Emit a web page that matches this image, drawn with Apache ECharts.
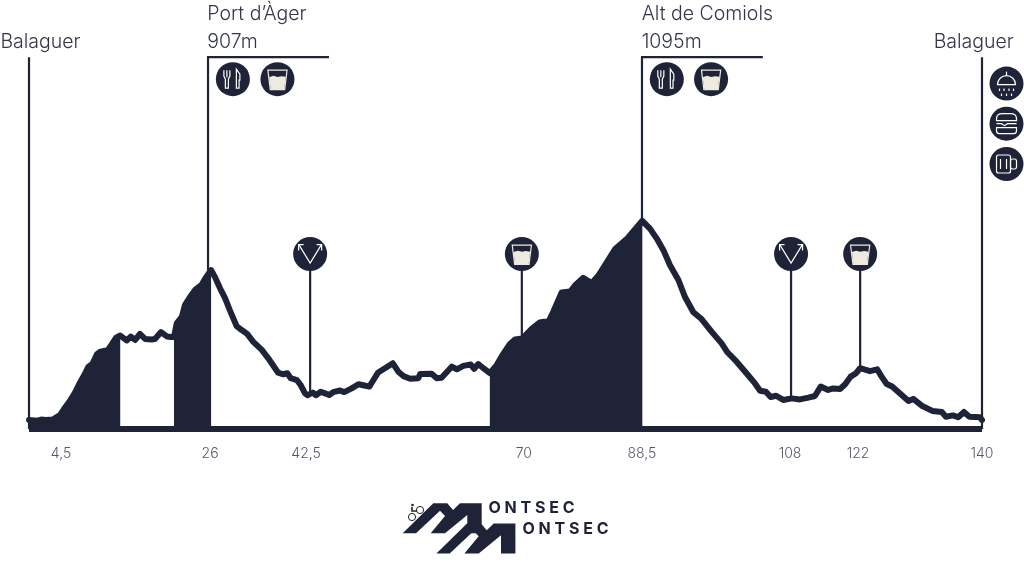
<!DOCTYPE html>
<html><head><meta charset="utf-8">
<style>html,body{margin:0;padding:0;background:#fff}#c{width:1024px;height:570px}</style>
<script src="https://cdn.jsdelivr.net/npm/echarts@6/dist/echarts.min.js"></script>
</head><body><div id="c"></div>
<script>
// profile: position along the drawn axis (km scale of the picture) and elevation (m)
const kmPos = [0,1.2,1.8,2.5,3.5,4.55,5.3,6,6.8,7.5,8.2,8.7,9.3,10,10.4,11.6,12.2,12.8,13.4,14.35,14.95,15.6,16.3,17.05,18.05,18.5,19.4,20.3,20.85,21.3,21.7,22.45,22.9,23.65,24.4,25.35,25.85,26.75,27.3,28.05,28.8,29.5,30.5,31.25,32.05,32.95,34.2,35.15,36.15,36.6,37.35,37.95,38.45,39.35,39.9,40.55,40.9,41.3,41.7,42.15,42.85,43.5,44.1,44.8,45.7,46.3,47.4,48.4,49.1,50,50.6,51.3,52.05,53.45,54.25,55,56,57.2,57.45,59.15,59.9,60.6,62.1,62.85,63.8,64.9,65.4,66,66.75,67.7,68.7,69.65,70.65,71.4,72.5,73.85,75.05,75.65,76.3,77,78.25,79.5,80.2,81.4,82.65,83.65,86.1,87.8,90.1,91.25,92.2,93.2,94.15,95.4,96.35,97.6,98.8,100.3,101.75,102.6,103.95,105.4,106.65,107.4,108.25,108.95,109.75,110.8,112.05,113.25,114.5,115.45,116.3,117.4,118.15,119.15,119.9,120.7,121.5,122.1,123.55,124.6,125.25,126,126.8,129.2,129.9,131.15,132.7,134.1,134.7,135.7,136.5,137.35,138.15,139.7,140];
const elevation = [334,332,336,334,336,353,382,407,441,478,510,537,548,586,594,602,625,649,657,638,653,640,663,644,642,644,670,653,651,651,703,728,773,804,831,850,873,907,881,838,800,754,693,678,663,633,602,570,532,515,509,513,494,487,468,436,429,434,439,429,442,436,430,442,447,441,455,471,467,462,487,516,528,551,519,502,492,494,510,511,494,496,538,528,541,546,530,548,532,513,544,586,625,642,646,682,707,710,709,747,821,825,848,877,857,886,987,1025,1095,1064,1028,983,926,869,805,746,720,671,627,593,557,513,474,446,442,422,427,411,417,413,420,426,462,449,455,453,471,500,513,532,521,528,500,472,462,407,415,389,369,365,347,352,345,365,347,345,334];
const climbs = [[0,13.4],[21.3,26.75],[67.7,90.1]];

const tickPos = [4.7,26.6,40.7,72.7,90.05,111.8,121.8,140];
const tickLabels = ['4,5','26','42,5','70','88,5','108','122','140'];

// vertical stems and top brackets
const stemKm = [0,26.3,90.05,140,41.3,72.4,111.95,122.1];
const stemFrom = [300,907,1095,300,434,646,417,532];
const stemTo = [1720,1720,1720,1720,968,968,968,968];
const bracketFrom = [26.3,90.05];
const bracketTo = [44.07,107.8];
const bracketElev = [1720,1720];

// service icons
const iconKm = [29.95,36.5,93.7,100.2,41.3,72.4,111.95,122.1,143.6,143.6,143.6];
const iconElev = [1636,1636,1636,1636,968,968,968,968,1619,1466,1312];
const iconKind = ['food','water','food','water','turn','water','turn','water','shower','burger','mug'];

// place names
const placeText = ['Balaguer','Port d\u2019\u00c0ger','907m','Alt de Comiols','1095m','Balaguer'];
const placeKm = [-4.2,26.2,26.2,90,90,132.9];
const placeElev = [1778,1883,1778,1883,1778,1778];

const DARK = '#1f2337', CREAM = '#efeae0', TXT = '#33364a';
const chart = echarts.init(document.getElementById('c'), null, {renderer:'canvas'});

function icon(kind){
  const w = {stroke:'#fff', fill:null, lineWidth:1.2};
  const c = [{type:'circle', shape:{cx:0,cy:0,r:17}, style:{fill:DARK}}];
  if(kind==='water'){
    c.push({type:'polygon', shape:{points:[[-8.3,-2],[-4,-3.4],[0,-2.2],[4,-3],[8.3,-2.4],[6.8,10],[-6.8,10]]}, style:{fill:CREAM}});
    c.push({type:'polygon', shape:{points:[[-9.6,-9],[9.6,-9],[7.2,10.4],[-7.2,10.4]]}, style:{stroke:CREAM,fill:null,lineWidth:1.2}});
  } else if(kind==='food'){
    c.push({type:'polyline', shape:{points:[[-9,-9],[-9,-3],[-7.5,0],[-7.5,9],[-4.5,9],[-4.5,0],[-3,-3],[-3,-9]]}, style:w});
    c.push({type:'line', shape:{x1:-6,y1:-9,x2:-6,y2:-2}, style:w});
    c.push({type:'polygon', shape:{points:[[3.5,-10],[7,-5],[7,1],[6.2,1],[6.2,9],[3.5,9]]}, style:w});
  } else if(kind==='turn'){
    c.push({type:'polyline', shape:{points:[[-11,-9],[0,9],[11,-9]]}, style:w});
    c.push({type:'polyline', shape:{points:[[-6.5,-9.5],[-11.5,-9.5],[-11.5,-3.5]]}, style:w});
    c.push({type:'polyline', shape:{points:[[6.5,-9.5],[11.5,-9.5],[11.5,-3.5]]}, style:w});
  } else if(kind==='shower'){
    c.push({type:'line', shape:{x1:0,y1:-12,x2:0,y2:-8}, style:w});
    c.push({type:'path', shape:{pathData:'M-9 1 A9 9 0 0 1 9 1 Z', x:-9,y:-8,width:18,height:9}, style:w});
    [[-7,5],[-2.5,5],[2.5,5],[7,5],[-5,10],[0,10],[5,10]].forEach(p=>c.push({type:'rect', shape:{x:p[0]-.6,y:p[1],width:1.2,height:2.4}, style:{fill:'#fff'}}));
  } else if(kind==='burger'){
    c.push({type:'path', shape:{pathData:'M-10 -3 V-5 Q-10 -10 -4 -10 H4 Q10 -10 10 -5 V-3 Z', x:-10,y:-10,width:20,height:7}, style:w});
    c.push({type:'polyline', shape:{points:[[-10,0],[-5,0],[-2,2],[1,0],[10,0]]}, style:w});
    c.push({type:'path', shape:{pathData:'M-10 4 H10 V7 Q10 10 7 10 H-7 Q-10 10 -10 7 Z', x:-10,y:4,width:20,height:6}, style:w});
  } else if(kind==='mug'){
    c.push({type:'rect', shape:{x:-10,y:-9,width:14,height:18,r:2}, style:w});
    c.push({type:'rect', shape:{x:4,y:-5,width:6,height:10,r:2}, style:w});
    c.push({type:'line', shape:{x1:-6,y1:-5,x2:-6,y2:5}, style:w});
    c.push({type:'line', shape:{x1:0,y1:-5,x2:0,y2:5}, style:w});
  }
  return c;
}

const profile = kmPos.map((k,i)=>[k,elevation[i]]);
const areaSeries = climbs.map(r=>({
  type:'line', data:profile.filter(p=>p[0]>=r[0]&&p[0]<=r[1]), symbol:'none', silent:true,
  lineStyle:{width:0}, areaStyle:{color:DARK,opacity:1}, itemStyle:{color:DARK}, z:3
}));

const logoPts = [[402.7,533.3],[416,533.3],[440,510.7],[445,516],[430.7,533.3],[445,533.3],[467.3,515],[467.3,533.3],[481.7,533.3],[481.7,503.3],[460,503.3],[453,510],[447.3,503.3],[433.3,503.3]];
const logoShift = logoPts.map(p=>[p[0]+33.7,p[1]+20.3]);
const logoWord = 'O N T S E C';

chart.setOption({
  animation:false,
  backgroundColor:'#fff',
  grid:{left:29,width:953,top:10,height:419,containLabel:false},
  xAxis:{type:'value',min:0,max:140,
    axisLine:{show:true,onZero:false,lineStyle:{color:DARK,width:6,cap:'butt'}},
    axisTick:{show:false},splitLine:{show:false},
    axisLabel:{customValues:tickPos,margin:18,color:'#55586a',fontFamily:'Inter',fontSize:14,fontWeight:300,
      formatter:v=>{const i=tickPos.findIndex(t=>Math.abs(t-v)<1e-6);return i>=0?tickLabels[i]:'';}}
  },
  yAxis:{type:'value',min:300,max:1900,show:false,splitLine:{show:false}},
  graphic:[
    {type:'polygon',shape:{points:logoPts},style:{fill:DARK}},
    {type:'polygon',shape:{points:logoShift},style:{fill:DARK}},
    {type:'text',x:488.5,y:500,style:{text:logoWord,fill:DARK,font:'700 16px Inter'}},
    {type:'text',x:522.5,y:521,style:{text:logoWord,fill:DARK,font:'700 16px Inter'}},
    {type:'circle',shape:{cx:412,cy:517,r:3.6},style:{stroke:DARK,fill:'#fff',lineWidth:1}},
    {type:'circle',shape:{cx:420,cy:510,r:3.6},style:{stroke:DARK,fill:'#fff',lineWidth:1}},
    {type:'circle',shape:{cx:412.5,cy:505,r:1.3},style:{fill:DARK}},
    {type:'polyline',shape:{points:[[412,507],[412,511],[417,511]]},style:{stroke:DARK,lineWidth:1.6,fill:null}}
  ],
  series:[
    ...areaSeries,
    {type:'custom',coordinateSystem:'cartesian2d',silent:true,z:2,clip:false,
      data:stemKm.map((k,i)=>[k,stemFrom[i],stemTo[i]]),
      renderItem:(p,api)=>{const a=api.coord([api.value(0),api.value(1)]),b=api.coord([api.value(0),api.value(2)]);
        return {type:'line',shape:{x1:a[0],y1:a[1],x2:b[0],y2:b[1]},style:{stroke:DARK,lineWidth:2.2}};}},
    {type:'custom',coordinateSystem:'cartesian2d',silent:true,z:2,clip:false,
      data:bracketFrom.map((k,i)=>[k,bracketTo[i],bracketElev[i]]),
      renderItem:(p,api)=>{const a=api.coord([api.value(0),api.value(2)]),b=api.coord([api.value(1),api.value(2)]);
        return {type:'line',shape:{x1:a[0]-1,y1:a[1],x2:b[0],y2:b[1]},style:{stroke:DARK,lineWidth:2.2}};}},
    {type:'line',data:profile,symbol:'none',silent:true,z:4,clip:false,
      lineStyle:{color:DARK,width:6,join:'round',cap:'round'},itemStyle:{color:DARK}},
    {type:'custom',coordinateSystem:'cartesian2d',silent:true,z:5,clip:false,
      data:iconKm.map((k,i)=>[k,iconElev[i],i]),
      renderItem:(p,api)=>{const a=api.coord([api.value(0),api.value(1)]);
        return {type:'group',x:a[0],y:a[1],children:icon(iconKind[api.value(2)])};}},
    {type:'custom',coordinateSystem:'cartesian2d',silent:true,z:6,clip:false,
      data:placeKm.map((k,i)=>[k,placeElev[i],i]),
      renderItem:(p,api)=>{const a=api.coord([api.value(0),api.value(1)]);
        return {type:'text',x:a[0],y:a[1],style:{text:placeText[api.value(2)],fill:TXT,font:'300 19.5px Inter',textAlign:'left',textVerticalAlign:'middle'}};}}
  ]
});
</script></body></html>
